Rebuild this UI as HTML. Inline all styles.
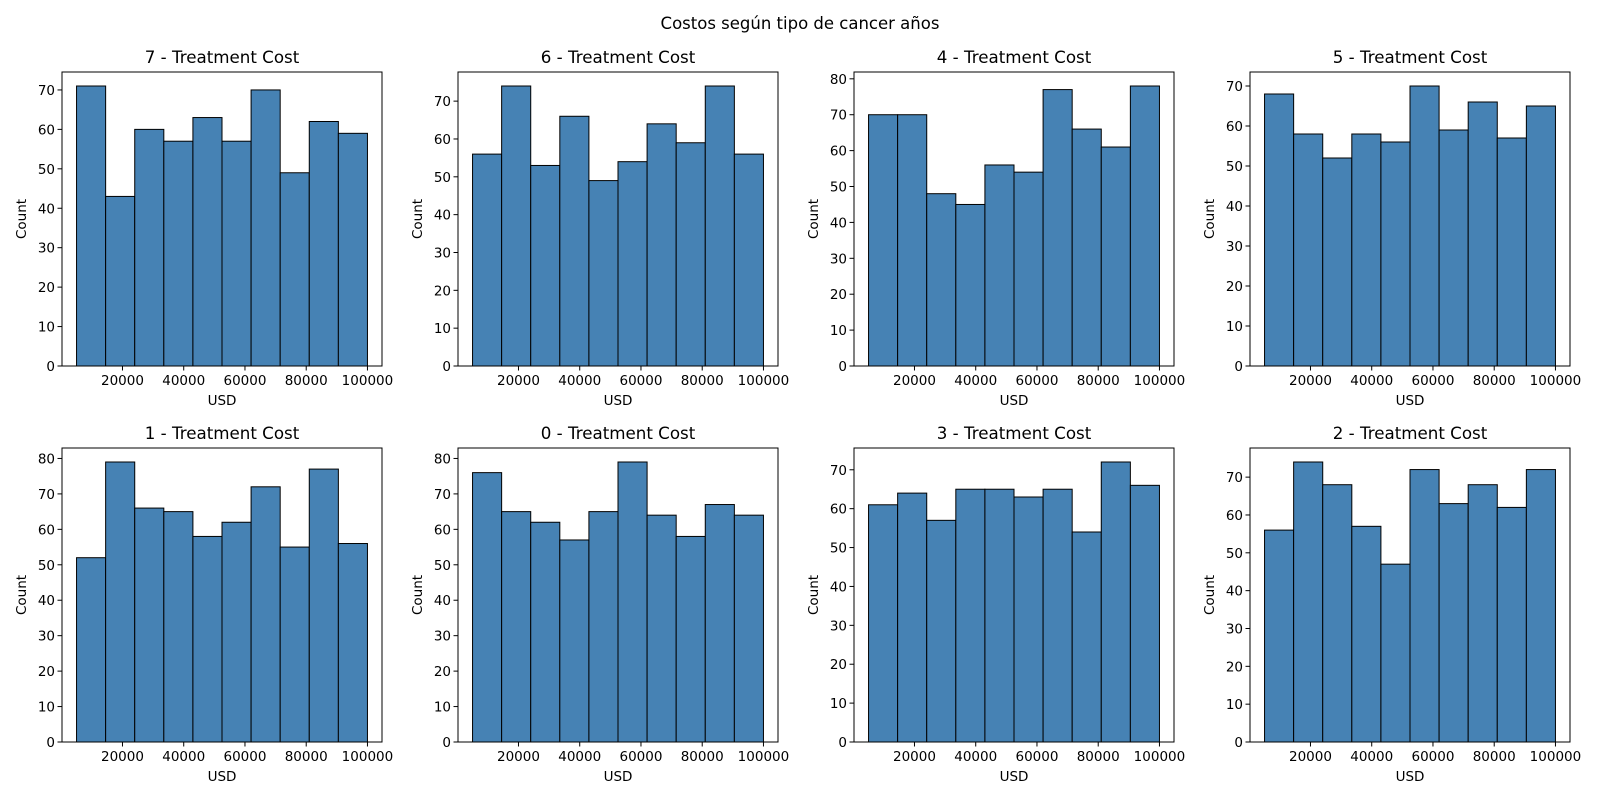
<!DOCTYPE html>
<html><head><meta charset="utf-8"><style>
html,body{margin:0;padding:0;background:#fff;}
svg{display:block;font-family:"DejaVu Sans","Liberation Sans",sans-serif;}
</style></head><body>
<svg id="chart" width="1600" height="800" viewBox="0 0 1600 800">
<text x="800" y="29" font-size="16.5" text-anchor="middle">Costos según tipo de cancer años</text>
</svg>
<script>
const panelLabels = ["7","6","4","5","1","0","3","2"];
const counts7 = [71,43,60,57,63,57,70,49,62,59];
const counts6 = [56,74,53,66,49,54,64,59,74,56];
const counts4 = [70,70,48,45,56,54,77,66,61,78];
const counts5 = [68,58,52,58,56,70,59,66,57,65];
const counts1 = [52,79,66,65,58,62,72,55,77,56];
const counts0 = [76,65,62,57,65,79,64,58,67,64];
const counts3 = [61,64,57,65,65,63,65,54,72,66];
const counts2 = [56,74,68,57,47,72,63,68,62,72];
const allCounts = [counts7,counts6,counts4,counts5,counts1,counts0,counts3,counts2];
const xMin = 5000, xMax = 100000;
const xTicks = [20000,40000,60000,80000,100000];

const NS = "http://www.w3.org/2000/svg";
const svg = document.getElementById('chart');
function mk(tag, attrs, parent){
  const e = document.createElementNS(NS, tag);
  for (const k in attrs) e.setAttribute(k, attrs[k]);
  (parent||svg).appendChild(e); return e;
}
const W = 320, H = 294;
allCounts.forEach((counts, p) => {
  const L = 62 + (p%4)*396, T = 72 + Math.floor(p/4)*376;
  const g = mk('g', {});
  
  
  const span = xMax - xMin;
  const lo = xMin - span*0.05, hi = xMax + span*0.05;
  const xs = v => L + (v-lo)/(hi-lo)*W;
  const ymax = Math.max(...counts)*1.05;
  const ys = v => T + H - v/ymax*H;
  const n = counts.length, bw = span/n;
  counts.forEach((c,i) => {
    const x0 = xs(xMin + i*bw), x1 = xs(xMin + (i+1)*bw);
    const r = mk('rect', {x:x0, y:ys(c), width:x1-x0, height:ys(0)-ys(c), fill:'#4682b4', stroke:'#000', 'stroke-width':1}, g);
    
    
  });
  const fr = mk('rect', {x:L, y:T, width:W, height:H, fill:'none', stroke:'#000', 'stroke-width':1}, g);
  
  
  xTicks.forEach(t => {
    const x = xs(t);
    mk('line', {x1:x, x2:x, y1:T+H, y2:T+H+4.5, stroke:'#000'}, g);
    const tx = mk('text', {x:x, y:T+H+19, 'font-size':13.5, 'text-anchor':'middle'}, g);
    tx.textContent = t;
    
    
  });
  for (let v = 0; v <= ymax; v += 10) {
    const y = ys(v);
    mk('line', {x1:L-4.5, x2:L, y1:y, y2:y, stroke:'#000'}, g);
    const tx = mk('text', {x:L-7, y:y+5, 'font-size':13.5, 'text-anchor':'end'}, g);
    tx.textContent = v;
    
    
  }
  const ti = mk('text', {x:L+W/2, y:T-9, 'font-size':16.7, 'text-anchor':'middle'}, g);
  ti.textContent = panelLabels[p] + ' - Treatment Cost';
  
  
  const xl = mk('text', {x:L+W/2, y:T+H+39, 'font-size':13.5, 'text-anchor':'middle'}, g);
  xl.textContent = 'USD';
  
  
  const yl = mk('text', {x:0, y:0, 'font-size':13.5, 'text-anchor':'middle', transform:`translate(${L-36},${T+H/2}) rotate(-90)`}, g);
  yl.textContent = 'Count';
  
  
});
</script>
</body></html>
